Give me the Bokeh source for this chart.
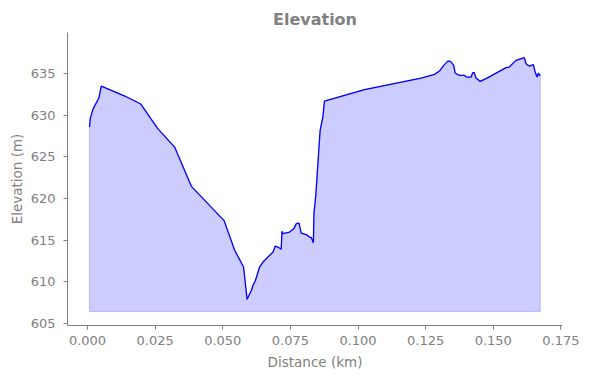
from bokeh.plotting import figure
from bokeh.models import Range1d, FixedTicker, NumeralTickFormatter
from bokeh.embed import file_html
from bokeh.resources import INLINE

# Data
distance_km = [0.00074, 0.0010, 0.0021, 0.0042, 0.0051, 0.0138, 0.0197, 0.0259,
               0.0322, 0.0384, 0.0505, 0.0544, 0.0577, 0.0590, 0.0606, 0.0612,
               0.0621, 0.0636, 0.0649, 0.0667, 0.0686, 0.0694, 0.0704, 0.0716,
               0.0719, 0.0723, 0.0747, 0.0763, 0.0772, 0.0782, 0.0790, 0.0809,
               0.0821, 0.0827, 0.0835, 0.0837, 0.0844, 0.0855, 0.0860, 0.0870,
               0.0876, 0.1024, 0.1233, 0.1283, 0.1301, 0.1317, 0.1332, 0.1342,
               0.1354, 0.1359, 0.1375, 0.1393, 0.1402, 0.1418, 0.1424, 0.1430,
               0.1436, 0.1452, 0.1480, 0.1529, 0.1547, 0.1559, 0.1584, 0.1615,
               0.1621, 0.1633, 0.1648, 0.1655, 0.1662, 0.1667, 0.1672, 0.1674]
elevation_m = [628.56, 629.57, 630.77, 632.04, 633.48, 632.28, 631.32, 628.40,
               626.16, 621.45, 617.34, 613.78, 611.77, 607.90, 608.98, 609.58,
               610.18, 611.77, 612.37, 612.97, 613.57, 614.29, 614.17, 613.90,
               616.06, 615.78, 615.97, 616.38, 616.98, 617.05, 615.85, 615.66,
               615.37, 615.30, 614.70, 618.18, 620.40, 625.77, 628.17, 629.76,
               631.68, 633.05, 634.44, 634.88, 635.28, 635.96, 636.47, 636.44,
               635.96, 635.04, 634.76, 634.76, 634.56, 634.56, 635.08, 635.08,
               634.44, 634.04, 634.48, 635.36, 635.68, 635.76, 636.56, 636.88,
               636.16, 635.88, 636.04, 635.16, 634.56, 635.04, 634.76, 634.84]
fill_base_m = 606.44
x_ticks = [0.000, 0.025, 0.050, 0.075, 0.100, 0.125, 0.150, 0.175]
y_ticks = [605, 610, 615, 620, 625, 630, 635]

GREY = "#808080"
FONT = "DejaVu Sans"

p = figure(frame_width=495, frame_height=293, output_backend="svg",
           toolbar_location=None,
           x_range=Range1d(-0.0074, 0.1756), y_range=Range1d(604.76, 639.9),
           title="Elevation",
           min_border_left=67, min_border_right=20, min_border_top=32,
           min_border_bottom=45)
p.outline_line_color = None
p.grid.visible = False
p.background_fill_color = "white"

p.title.align = "center"
p.title.text_font = FONT
p.title.text_font_size = "16px"
p.title.text_font_style = "bold"
p.title.text_color = GREY
p.title.offset = 0
p.title.standoff = 8

patch_x = [distance_km[0]] + distance_km + [distance_km[-1]]
patch_y = [fill_base_m] + elevation_m + [fill_base_m]
p.patch(patch_x, patch_y, fill_color="blue", fill_alpha=0.2,
        line_color="blue", line_alpha=0.2, line_width=1)
p.line(distance_km, elevation_m, line_color="blue", line_width=1.3)

for ax in (p.xaxis[0], p.yaxis[0]):
    ax.axis_line_color = GREY
    ax.major_tick_line_color = GREY
    ax.minor_tick_line_color = None
    ax.major_tick_in = 0
    ax.major_tick_out = 4
    ax.major_label_text_font = FONT
    ax.major_label_text_font_size = "13px"
    ax.major_label_text_color = GREY
    ax.axis_label_text_font = FONT
    ax.axis_label_text_font_size = "13.5px"
    ax.axis_label_text_font_style = "normal"
    ax.axis_label_text_color = GREY

p.xaxis.ticker = FixedTicker(ticks=x_ticks)
p.xaxis.formatter = NumeralTickFormatter(format="0.000")
p.xaxis.axis_label = "Distance (km)"
p.xaxis.major_label_standoff = 6
p.xaxis.axis_label_standoff = 6

p.yaxis.ticker = FixedTicker(ticks=y_ticks)
p.yaxis.axis_label = "Elevation (m)"
p.yaxis.major_label_standoff = 8
p.yaxis.axis_label_standoff = 3

open("out.html", "w").write(file_html(p, INLINE))
